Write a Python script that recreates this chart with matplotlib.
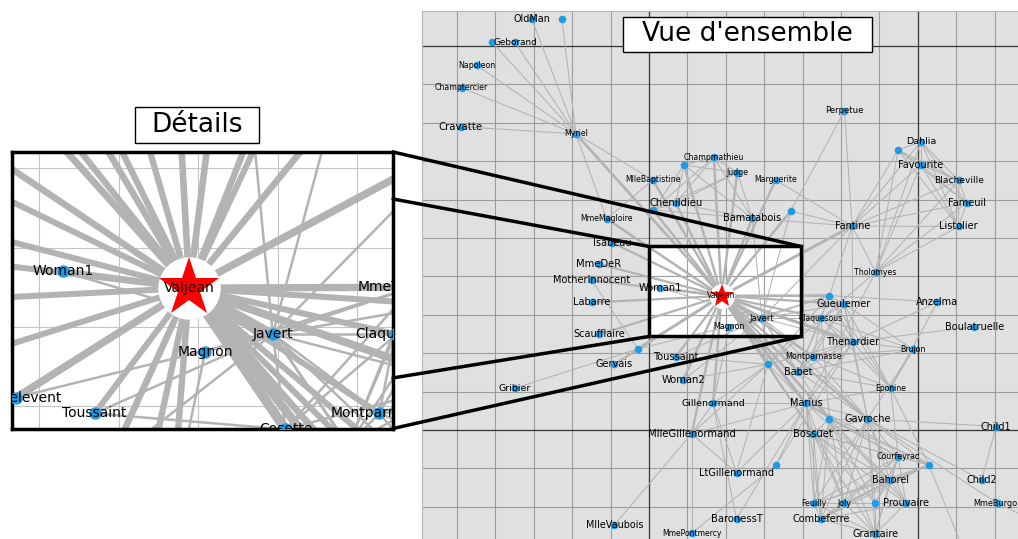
import matplotlib
matplotlib.use("Agg")
import numpy as np
import matplotlib.pyplot as plt
from matplotlib.collections import LineCollection
from matplotlib.patches import Rectangle, ConnectionPatch

# node layout (grid units) and label size in the overview (0 = no label)
node_names = ["Napoleon", "Myriel", "MlleBaptistine", "MmeMagloire", "CountessDeLo", "Geborand",
              "Champtercier", "Cravatte", "Count", "OldMan", "Valjean", "Labarre", "Marguerite",
              "MmeDeR", "Isabeau", "Gervais", "Listolier", "Tholomyes", "Fameuil", "Blacheville",
              "Favourite", "Dahlia", "Zephine", "Fantine", "MmeThenardier", "Thenardier", "Cosette",
              "Javert", "Fauchelevent", "Bamatabois", "Perpetue", "Simplice", "Scaufflaire", "Woman1",
              "Judge", "Champmathieu", "Brevet", "Chenildieu", "Cochepaille", "Pontmercy",
              "Boulatruelle", "Eponine", "Anzelma", "Woman2", "MotherInnocent", "Gribier", "MmeBurgon",
              "Jondrette", "Gavroche", "Gillenormand", "Magnon", "MlleGillenormand", "MmePontmercy",
              "MlleVaubois", "LtGillenormand", "Marius", "BaronessT", "Mabeuf", "Enjolras", "Combeferre",
              "Prouvaire", "Feuilly", "Courfeyrac", "Bahorel", "Bossuet", "Joly", "Grantaire",
              "MotherPlutarch", "Gueulemer", "Babet", "Claquesous", "Montparnasse", "Toussaint",
              "Child1", "Child2", "Brujon", "MmeHucheloup"]
node_x = [-4.49, -1.90, 0.10, -1.10, -4.09, -3.49,
          -4.88, -4.90, -2.27, -3.05, 1.89, -1.49, 3.30,
          -1.30, -0.96, -0.90, 8.06, 5.90, 8.27, 8.07,
          7.08, 7.08, 6.49, 5.29, 4.70, 5.31, 3.10,
          2.94, -0.29, 2.69, 5.09, 3.69, -1.29, 0.30,
          2.30, 1.69, 0.91, 0.70, 0.11, 3.31,
          8.47, 6.29, 7.51, 0.89, -1.49, -3.49, 9.08,
          10.30, 5.69, 1.67, 2.09, 1.11, 1.11,
          -0.90, 2.28, 4.09, 2.28, 7.29, 4.70, 4.48,
          6.69, 4.30, 6.49, 6.28, 4.28, 5.09, 5.89,
          8.30, 5.08, 3.89, 4.48, 4.28, 0.70,
          9.04, 8.66, 6.88, 5.89]
node_y = [9.50, 7.71, 6.51, 5.50, 10.10, 10.10,
          8.91, 7.90, 10.70, 10.70, 3.49, 3.32, 6.51,
          4.32, 4.88, 1.71, 5.30, 4.11, 5.91, 6.50,
          6.90, 7.51, 7.29, 5.31, 3.50, 2.30, 1.71,
          2.91, 2.11, 5.51, 8.31, 5.70, 2.49, 3.70,
          6.70, 7.10, 6.90, 5.91, 5.73, -0.91,
          2.69, 1.09, 3.33, 1.30, 3.90, 1.09, -1.91,
          -2.50, 0.29, 0.69, 2.69, -0.10, -2.69,
          -2.47, -1.11, 0.69, -2.32, -0.91, 0.29, -2.32,
          -1.91, -1.91, -0.70, -1.31, -0.10, -1.91, -2.70,
          -3.40, 3.28, 1.51, 2.91, 1.91, 1.91,
          0.09, -1.31, 2.10, -1.91]
label_pt = [5.7, 5.7, 5.6, 5.6, 0, 6.4,
            5.6, 7.3, 0, 6.9, 5.6, 7.0, 5.6,
            7.2, 7.0, 7.0, 7.0, 5.6, 7.0, 6.6,
            7.0, 6.8, 0, 6.9, 0, 7.0, 0,
            6.0, 0, 7.0, 6.1, 0, 7.0, 7.1,
            5.6, 5.6, 0, 7.2, 0, 0,
            7.0, 5.5, 7.0, 7.2, 7.0, 6.8, 5.9,
            0, 7.0, 6.8, 5.7, 7.2, 5.5,
            6.9, 7.0, 7.0, 7.2, 0, 0, 7.0,
            7.0, 5.7, 5.7, 6.9, 7.2, 5.7, 7.0,
            0, 7.0, 6.9, 5.5, 5.8, 7.0,
            6.9, 6.9, 5.6, 0]

edges = [
    ("Napoleon", "Myriel", 1), ("MlleBaptistine", "Myriel", 8), ("MmeMagloire", "Myriel", 10),
    ("MmeMagloire", "MlleBaptistine", 6), ("CountessDeLo", "Myriel", 1), ("Geborand", "Myriel", 1),
    ("Champtercier", "Myriel", 1), ("Cravatte", "Myriel", 1), ("Count", "Myriel", 2),
    ("OldMan", "Myriel", 1), ("Valjean", "Labarre", 1), ("Valjean", "MmeMagloire", 3),
    ("Valjean", "MlleBaptistine", 3), ("Valjean", "Myriel", 5), ("Marguerite", "Valjean", 1),
    ("MmeDeR", "Valjean", 1), ("Isabeau", "Valjean", 1), ("Gervais", "Valjean", 1),
    ("Listolier", "Tholomyes", 4), ("Fameuil", "Tholomyes", 4), ("Fameuil", "Listolier", 4),
    ("Blacheville", "Tholomyes", 4), ("Blacheville", "Listolier", 4), ("Blacheville", "Fameuil", 4),
    ("Favourite", "Tholomyes", 3), ("Favourite", "Listolier", 3), ("Favourite", "Fameuil", 3),
    ("Favourite", "Blacheville", 4), ("Dahlia", "Tholomyes", 3), ("Dahlia", "Listolier", 3),
    ("Dahlia", "Fameuil", 3), ("Dahlia", "Blacheville", 3), ("Dahlia", "Favourite", 5),
    ("Zephine", "Tholomyes", 3), ("Zephine", "Listolier", 3), ("Zephine", "Fameuil", 3),
    ("Zephine", "Blacheville", 3), ("Zephine", "Favourite", 4), ("Zephine", "Dahlia", 4),
    ("Fantine", "Tholomyes", 3), ("Fantine", "Listolier", 3), ("Fantine", "Fameuil", 3),
    ("Fantine", "Blacheville", 3), ("Fantine", "Favourite", 4), ("Fantine", "Dahlia", 4),
    ("Fantine", "Zephine", 4), ("Fantine", "Marguerite", 2), ("Fantine", "Valjean", 9),
    ("MmeThenardier", "Fantine", 2), ("MmeThenardier", "Valjean", 7), ("Thenardier", "MmeThenardier", 13),
    ("Thenardier", "Fantine", 1), ("Thenardier", "Valjean", 12), ("Cosette", "MmeThenardier", 4),
    ("Cosette", "Valjean", 31), ("Cosette", "Tholomyes", 1), ("Cosette", "Thenardier", 1),
    ("Javert", "Valjean", 17), ("Javert", "Fantine", 5), ("Javert", "Thenardier", 5),
    ("Javert", "MmeThenardier", 1), ("Javert", "Cosette", 1), ("Fauchelevent", "Valjean", 8),
    ("Fauchelevent", "Javert", 1), ("Bamatabois", "Fantine", 1), ("Bamatabois", "Javert", 1),
    ("Bamatabois", "Valjean", 2), ("Perpetue", "Fantine", 1), ("Simplice", "Perpetue", 2),
    ("Simplice", "Valjean", 3), ("Simplice", "Fantine", 2), ("Simplice", "Javert", 1),
    ("Scaufflaire", "Valjean", 1), ("Woman1", "Valjean", 2), ("Woman1", "Javert", 1),
    ("Judge", "Valjean", 3), ("Judge", "Bamatabois", 2), ("Champmathieu", "Valjean", 3),
    ("Champmathieu", "Judge", 3), ("Champmathieu", "Bamatabois", 2), ("Brevet", "Judge", 2),
    ("Brevet", "Champmathieu", 2), ("Brevet", "Valjean", 2), ("Brevet", "Bamatabois", 1),
    ("Chenildieu", "Judge", 2), ("Chenildieu", "Champmathieu", 2), ("Chenildieu", "Brevet", 2),
    ("Chenildieu", "Valjean", 2), ("Chenildieu", "Bamatabois", 1), ("Cochepaille", "Judge", 2),
    ("Cochepaille", "Champmathieu", 2), ("Cochepaille", "Brevet", 2), ("Cochepaille", "Chenildieu", 2),
    ("Cochepaille", "Valjean", 2), ("Cochepaille", "Bamatabois", 1), ("Pontmercy", "Thenardier", 1),
    ("Boulatruelle", "Thenardier", 1), ("Eponine", "MmeThenardier", 2), ("Eponine", "Thenardier", 3),
    ("Anzelma", "Eponine", 2), ("Anzelma", "Thenardier", 2), ("Anzelma", "MmeThenardier", 1),
    ("Woman2", "Valjean", 3), ("Woman2", "Cosette", 1), ("Woman2", "Javert", 1),
    ("MotherInnocent", "Fauchelevent", 3), ("MotherInnocent", "Valjean", 1), ("Gribier", "Fauchelevent", 2),
    ("MmeBurgon", "Jondrette", 1), ("Gavroche", "MmeBurgon", 2), ("Gavroche", "Thenardier", 1),
    ("Gavroche", "Javert", 1), ("Gavroche", "Valjean", 1), ("Gillenormand", "Cosette", 3),
    ("Gillenormand", "Valjean", 2), ("Magnon", "Gillenormand", 1), ("Magnon", "MmeThenardier", 1),
    ("MlleGillenormand", "Gillenormand", 9), ("MlleGillenormand", "Cosette", 2),
    ("MlleGillenormand", "Valjean", 2), ("MmePontmercy", "MlleGillenormand", 1),
    ("MmePontmercy", "Pontmercy", 1), ("MlleVaubois", "MlleGillenormand", 1),
    ("LtGillenormand", "MlleGillenormand", 2), ("LtGillenormand", "Gillenormand", 1),
    ("LtGillenormand", "Cosette", 1), ("Marius", "MlleGillenormand", 6), ("Marius", "Gillenormand", 12),
    ("Marius", "Pontmercy", 1), ("Marius", "LtGillenormand", 1), ("Marius", "Cosette", 21),
    ("Marius", "Valjean", 19), ("Marius", "Tholomyes", 1), ("Marius", "Thenardier", 2),
    ("Marius", "Eponine", 5), ("Marius", "Gavroche", 4), ("BaronessT", "Gillenormand", 1),
    ("BaronessT", "Marius", 1), ("Mabeuf", "Marius", 1), ("Mabeuf", "Eponine", 1),
    ("Mabeuf", "Gavroche", 1), ("Enjolras", "Marius", 7), ("Enjolras", "Gavroche", 7),
    ("Enjolras", "Javert", 6), ("Enjolras", "Mabeuf", 1), ("Enjolras", "Valjean", 4),
    ("Combeferre", "Enjolras", 15), ("Combeferre", "Marius", 5), ("Combeferre", "Gavroche", 6),
    ("Combeferre", "Mabeuf", 2), ("Prouvaire", "Gavroche", 1), ("Prouvaire", "Enjolras", 4),
    ("Prouvaire", "Combeferre", 2), ("Feuilly", "Gavroche", 2), ("Feuilly", "Enjolras", 6),
    ("Feuilly", "Prouvaire", 2), ("Feuilly", "Combeferre", 5), ("Feuilly", "Mabeuf", 1),
    ("Feuilly", "Marius", 1), ("Courfeyrac", "Marius", 9), ("Courfeyrac", "Enjolras", 17),
    ("Courfeyrac", "Combeferre", 13), ("Courfeyrac", "Gavroche", 7), ("Courfeyrac", "Mabeuf", 2),
    ("Courfeyrac", "Eponine", 1), ("Courfeyrac", "Feuilly", 6), ("Courfeyrac", "Prouvaire", 3),
    ("Bahorel", "Combeferre", 5), ("Bahorel", "Gavroche", 5), ("Bahorel", "Courfeyrac", 6),
    ("Bahorel", "Mabeuf", 2), ("Bahorel", "Enjolras", 4), ("Bahorel", "Feuilly", 3),
    ("Bahorel", "Prouvaire", 2), ("Bahorel", "Marius", 1), ("Bossuet", "Marius", 5),
    ("Bossuet", "Courfeyrac", 12), ("Bossuet", "Gavroche", 5), ("Bossuet", "Bahorel", 4),
    ("Bossuet", "Enjolras", 10), ("Bossuet", "Feuilly", 6), ("Bossuet", "Prouvaire", 2),
    ("Bossuet", "Combeferre", 9), ("Bossuet", "Mabeuf", 1), ("Bossuet", "Valjean", 1),
    ("Joly", "Bahorel", 5), ("Joly", "Bossuet", 7), ("Joly", "Gavroche", 3),
    ("Joly", "Courfeyrac", 5), ("Joly", "Enjolras", 5), ("Joly", "Feuilly", 5),
    ("Joly", "Prouvaire", 2), ("Joly", "Combeferre", 5), ("Joly", "Mabeuf", 1),
    ("Joly", "Marius", 2), ("Grantaire", "Bossuet", 3), ("Grantaire", "Enjolras", 3),
    ("Grantaire", "Combeferre", 1), ("Grantaire", "Courfeyrac", 2), ("Grantaire", "Joly", 2),
    ("Grantaire", "Gavroche", 1), ("Grantaire", "Bahorel", 1), ("Grantaire", "Feuilly", 1),
    ("Grantaire", "Prouvaire", 1), ("MotherPlutarch", "Mabeuf", 3), ("Gueulemer", "Thenardier", 5),
    ("Gueulemer", "Valjean", 1), ("Gueulemer", "MmeThenardier", 1), ("Gueulemer", "Javert", 1),
    ("Gueulemer", "Gavroche", 1), ("Gueulemer", "Eponine", 1), ("Babet", "Thenardier", 6),
    ("Babet", "Gueulemer", 6), ("Babet", "Valjean", 1), ("Babet", "MmeThenardier", 1),
    ("Babet", "Javert", 2), ("Babet", "Gavroche", 1), ("Babet", "Eponine", 1),
    ("Claquesous", "Thenardier", 4), ("Claquesous", "Babet", 4), ("Claquesous", "Gueulemer", 4),
    ("Claquesous", "Valjean", 1), ("Claquesous", "MmeThenardier", 1), ("Claquesous", "Javert", 1),
    ("Claquesous", "Eponine", 1), ("Claquesous", "Enjolras", 1), ("Montparnasse", "Javert", 1),
    ("Montparnasse", "Babet", 2), ("Montparnasse", "Gueulemer", 2), ("Montparnasse", "Claquesous", 2),
    ("Montparnasse", "Valjean", 1), ("Montparnasse", "Gavroche", 1), ("Montparnasse", "Eponine", 1),
    ("Montparnasse", "Thenardier", 1), ("Toussaint", "Cosette", 2), ("Toussaint", "Javert", 1),
    ("Toussaint", "Valjean", 1), ("Child1", "Gavroche", 2), ("Child2", "Gavroche", 2),
    ("Child2", "Child1", 3), ("Brujon", "Babet", 3), ("Brujon", "Gueulemer", 3),
    ("Brujon", "Thenardier", 3), ("Brujon", "Gavroche", 1), ("Brujon", "Eponine", 1),
    ("Brujon", "Claquesous", 1), ("Brujon", "Montparnasse", 1), ("MmeHucheloup", "Bossuet", 1),
    ("MmeHucheloup", "Joly", 1), ("MmeHucheloup", "Grantaire", 1), ("MmeHucheloup", "Bahorel", 1),
    ("MmeHucheloup", "Courfeyrac", 1), ("MmeHucheloup", "Gavroche", 1), ("MmeHucheloup", "Enjolras", 1),
]

hub = "Valjean"
zoom_x = (0.0, 3.95)       # rectangle shown on the overview
zoom_y = (2.435, 4.78)

pos = {n: (x, y) for n, x, y in zip(node_names, node_x, node_y)}
edge_col = '#b3b3b3'
node_col = '#1e9be6'


def draw_graph(ax, base_lw, hub_lw, hub_k, node_s, star_ms, labels):
    segs = [(pos[u], pos[v]) for u, v, w in edges]
    lws = [hub_lw + hub_k * np.sqrt(w) if hub in (u, v) else base_lw for u, v, w in edges]
    ax.add_collection(LineCollection(segs, colors=edge_col, linewidths=lws, zorder=2))
    others = [n for n in node_names if n != hub]
    ax.scatter([pos[n][0] for n in others], [pos[n][1] for n in others],
               s=node_s, color=node_col, linewidths=0, zorder=3)
    hx, hy = pos[hub]
    ax.plot(hx, hy, 'o', ms=star_ms, color='white', mew=0, zorder=3)
    ax.plot(hx, hy, '*', ms=star_ms, color='red', mew=0, zorder=3.5)
    for n, size in labels:
        ax.text(pos[n][0], pos[n][1], n, fontsize=size, ha='center', va='center',
                color='black', zorder=4, clip_on=True)


fig = plt.figure(figsize=(10.18, 5.39), dpi=100)

# overview
ax = fig.add_axes([0.4145, 0.0, 0.5855, 0.9796])
ax.set_facecolor('#e0e0e0')
ax.set_xlim(-5.911, 9.609)
ax.set_ylim(-2.839, 10.911)
ax.set_xticks(np.arange(-5, 10))
ax.set_yticks(np.arange(-2, 11))
ax.tick_params(length=0, labelbottom=False, labelleft=False)
ax.grid(True, color='#9c9c9c', lw=0.8)
ax.set_axisbelow(True)
for v in (0, 7):
    ax.axvline(v, color='#3a3a3a', lw=0.9, zorder=0.6)
for h in (0, 10):
    ax.axhline(h, color='#3a3a3a', lw=0.9, zorder=0.6)
for side in ('right', 'bottom'):
    ax.spines[side].set_visible(False)
for side in ('top', 'left'):
    ax.spines[side].set_color('#b5b5b5')
    ax.spines[side].set_linewidth(0.8)

rw, rh = zoom_x[1] - zoom_x[0], zoom_y[1] - zoom_y[0]
ax.add_patch(Rectangle((zoom_x[0], zoom_y[0]), rw, rh, facecolor='white', edgecolor='none', zorder=0.3))
ax.add_patch(Rectangle((zoom_x[0], zoom_y[0]), rw, rh, facecolor='none', edgecolor='black', lw=2.5, zorder=5))

main_labels = [(n, s) for n, s in zip(node_names, label_pt) if s > 0]
draw_graph(ax, 0.75, 1.4, 0.22, 30, 18, main_labels)

# details
axins = fig.add_axes([0.0113, 0.205, 0.3748, 0.513])
axins.set_facecolor('white')
axins.set_xlim(-0.346, 4.453)
axins.set_ylim(1.72, 5.205)
axins.set_xticks(np.arange(0, 5))
axins.set_yticks(np.arange(2, 6))
axins.tick_params(length=0, labelbottom=False, labelleft=False)
axins.grid(True, color='#c4c4c4', lw=0.8)
axins.set_axisbelow(True)
for sp in axins.spines.values():
    sp.set_color('black')
    sp.set_linewidth(2.5)
draw_graph(axins, 1.8, 3.8, 0.55, 80, 45, [(n, 10) for n in node_names])

# connectors between the details panel and the rectangle
ends_a = [(1, 1), (1, 0.83), (1, 0.183), (1, 0)]
ends_b = [(zoom_x[1], zoom_y[1]), (zoom_x[0], zoom_y[1]), (zoom_x[0], zoom_y[0]), (zoom_x[1], zoom_y[0])]
for a, b in zip(ends_a, ends_b):
    con = ConnectionPatch(xyA=a, coordsA=axins.transAxes, xyB=b, coordsB=ax.transData,
                          color='black', lw=2.5, zorder=5)
    fig.add_artist(con)

# title boxes
fig.add_artist(Rectangle((0.612, 0.903), 0.2443, 0.066, transform=fig.transFigure,
                         facecolor='white', edgecolor='black', lw=1.0, zorder=6))
fig.text(0.7341, 0.936, "Vue d'ensemble", ha='center', va='center', fontsize=19, zorder=7)
fig.add_artist(Rectangle((0.1326, 0.7352), 0.1215, 0.0668, transform=fig.transFigure,
                         facecolor='white', edgecolor='black', lw=1.0, zorder=6))
fig.text(0.1933, 0.7686, "Détails", ha='center', va='center', fontsize=19, zorder=7)

fig.savefig('out.png', dpi=100)
